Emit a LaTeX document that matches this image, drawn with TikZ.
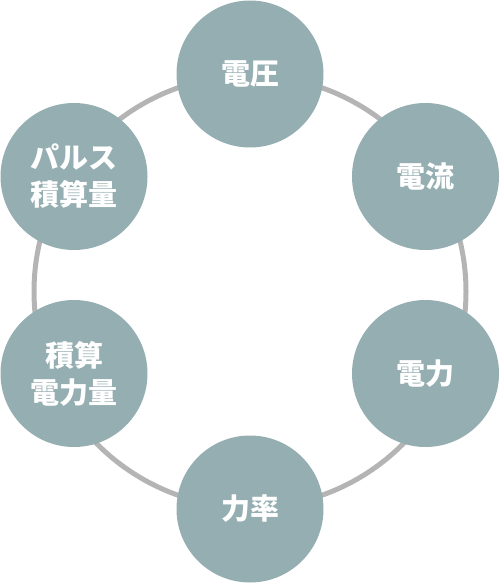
\documentclass[tikz,border=0pt]{standalone}
\usepackage{fontspec}
\newfontfamily\cjk{Noto Sans CJK JP}
\definecolor{nodefill}{HTML}{95AEB1}
\definecolor{ringgray}{HTML}{B4B4B4}
\begin{document}
\begin{tikzpicture}[x=1pt,y=-1pt,
  item/.style={circle,fill=nodefill,minimum size=147pt,inner sep=0pt,
    text=white,align=center,font=\cjk\bfseries\fontsize{29}{37}\selectfont},
  ring/.style={draw=ringgray,line width=5pt}]
\useasboundingbox (0,0) rectangle (500,583);
\coordinate (c) at (250,291.5);
\draw[ring] (c) circle[radius=216];
\node[item] (v) at (250,74) {電圧};
\node[item] (i) at (425.5,176.5) {電流};
\node[item] (p) at (425.5,373.5) {電力};
\node[item] (pf) at (250,509) {力率};
\node[item] (wh) at (74,373.5) {積算\\電力量};
\node[item] (pc) at (74,176.5) {パルス\\積算量};
\end{tikzpicture}
\end{document}
